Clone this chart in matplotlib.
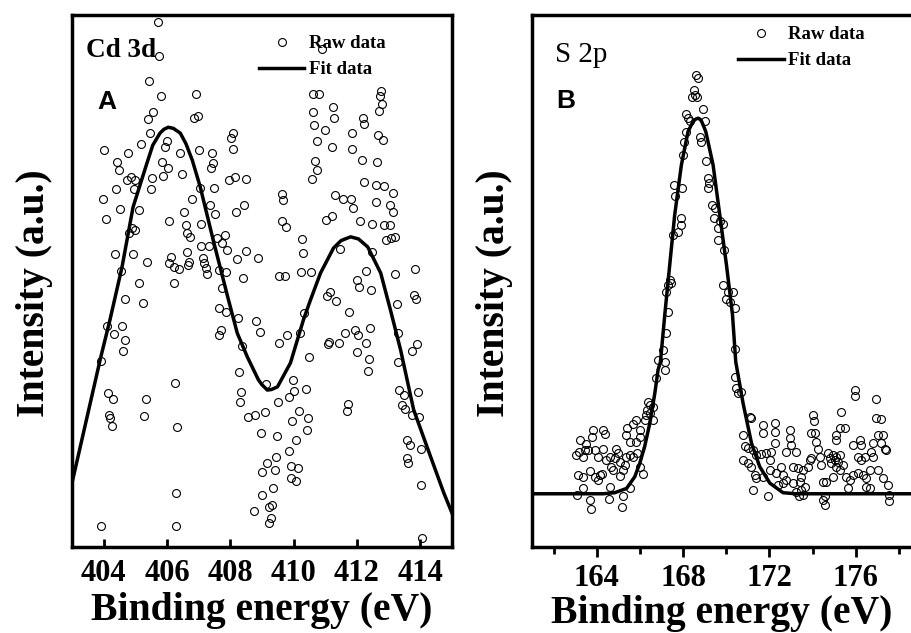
import numpy as np
import matplotlib
matplotlib.use("Agg")
import matplotlib.pyplot as plt
from matplotlib.ticker import MultipleLocator

plt.rcParams['font.family'] = ['Liberation Serif', 'DejaVu Serif']

# ---- panel A : Cd 3d ----
cd_fit_x = [403.0, 403.89, 404.20, 404.58, 404.93, 405.37, 405.55, 405.78, 405.90, 406.04,
            406.20, 406.42, 406.60, 406.80, 407.05, 407.46, 407.91, 408.22, 408.54, 408.89,
            409.00, 409.17, 409.30, 409.49, 409.90, 410.31, 410.53, 410.85, 411.26, 411.50,
            411.80, 412.05, 412.34, 412.75, 413.06, 413.38, 413.79, 414.33, 414.74, 415.0]
cd_fit_y = [12.0, 35.2, 42.7, 52.6, 63.9, 72.2, 75.5, 77.8, 78.5, 78.9,
            78.7, 77.8, 75.8, 72.7, 67.7, 57.7, 47.2, 40.2, 35.7, 31.4,
            30.5, 29.5, 29.6, 30.1, 34.6, 42.7, 46.4, 51.5, 56.2, 57.6,
            58.3, 57.9, 56.4, 51.5, 44.5, 37.0, 25.8, 16.9, 10.2, 6.4]

cd_raw_x = [405.72, 405.74, 405.43, 405.80, 406.92, 405.55, 405.41, 406.85, 406.99, 405.46,
            408.08, 408.02, 408.08, 405.99, 404.01, 404.77, 405.18, 405.95, 406.40, 407.01,
            407.43, 404.42, 404.50, 405.83, 406.04, 405.87, 407.45, 407.38, 406.48, 404.85,
            404.74, 405.00, 405.53, 407.96, 408.15, 408.49, 404.40, 404.97, 405.51, 407.49,
            407.04, 403.98, 406.78, 404.53, 405.13, 406.53, 407.37, 407.51, 408.17, 408.43,
            404.08, 406.08, 404.90, 405.00, 404.81, 406.59, 406.64, 406.74, 407.06, 407.59,
            407.83, 407.75, 407.91, 404.37, 404.92, 405.37, 406.14, 406.08, 406.22, 406.38,
            406.64, 406.71, 406.67, 407.15, 407.17, 407.22, 407.27, 407.06, 407.32, 407.64,
            407.85, 408.51, 408.20, 408.89, 404.55, 408.40, 405.11, 406.22,
            410.60, 410.81, 412.76, 412.73, 412.79, 412.71, 411.25, 411.28, 410.60, 410.65,
            410.99, 412.18, 412.23, 411.84, 412.65, 412.83, 410.75, 411.21, 411.84, 412.15,
            412.63, 410.68, 410.75, 410.57, 412.23, 412.60, 412.86, 413.13, 409.62, 409.67,
            411.31, 411.57, 411.81, 411.88, 412.60, 413.04, 413.15, 409.62, 409.75, 411.02,
            411.20, 412.09, 412.49, 412.86, 413.04, 412.92, 413.07, 413.21, 410.28, 410.30,
            411.46, 412.47, 409.54, 409.73, 410.23, 410.54, 412.30, 411.99, 413.21, 413.84,
            410.90,
            404.69, 405.25, 404.11, 404.34, 404.58, 404.66, 404.61, 403.92, 407.73, 407.64,
            407.85, 407.72, 407.64, 408.24, 408.38, 408.82, 408.93, 408.27, 408.35, 408.31,
            408.56, 408.79, 409.11, 408.96, 406.24, 404.14, 404.29, 405.34, 404.16, 404.21,
            404.27, 405.27, 406.33, 408.99, 406.27, 408.99, 408.75, 403.92, 406.30,
            409.12, 412.07, 412.44, 411.14, 411.04, 411.33, 413.81, 413.87, 413.25, 411.76,
            410.33, 409.80, 409.54, 410.19, 411.12, 411.09, 411.42, 411.63, 411.95, 412.02,
            412.41, 412.30, 411.99, 412.37, 412.34, 410.49, 413.89, 413.74, 413.29, 413.31,
            409.98, 410.01, 409.84, 409.51, 410.38, 413.34, 413.50, 413.42, 413.53, 413.73,
            413.92, 413.97, 411.73, 411.67, 410.17, 410.44, 409.94, 410.41, 409.47, 410.07,
            409.86, 409.44, 409.17, 409.40, 409.93, 410.14, 409.91, 410.09, 413.58, 413.68,
            414.01, 413.58, 413.62, 409.35, 409.33, 409.22, 409.28, 409.22, 414.02, 414.05]
cd_raw_y = [98.6, 92.2, 87.5, 84.8, 85.1, 81.7, 80.5, 80.7, 81.1, 77.8,
            77.9, 76.8, 74.9, 76.3, 74.6, 74.0, 75.7, 75.1, 74.1, 74.6,
            74.0, 72.4, 70.9, 72.4, 71.2, 69.7, 72.1, 71.2, 70.2, 69.6,
            68.9, 68.9, 69.3, 68.9, 69.6, 69.1, 67.2, 67.2, 67.2, 67.5,
            67.5, 65.5, 65.4, 63.5, 63.3, 63.0, 64.2, 62.6, 63.0, 64.2,
            61.6, 61.3, 59.9, 59.6, 59.0, 60.5, 59.0, 58.3, 60.7, 58.1,
            58.6, 57.1, 55.8, 55.1, 55.1, 53.6, 54.6, 53.3, 52.7, 52.2,
            55.4, 53.6, 53.0, 54.4, 53.3, 52.4, 51.4, 56.5, 56.5, 52.1,
            51.6, 55.7, 54.1, 54.4, 51.9, 50.6, 49.7, 49.7,
            85.1, 85.1, 85.7, 84.8, 83.2, 82.0, 82.8, 80.6, 81.7, 79.4,
            78.4, 80.6, 79.6, 77.8, 77.4, 76.5, 76.3, 75.1, 74.9, 72.7,
            72.3, 72.6, 70.9, 69.1, 68.7, 68.0, 67.9, 66.5, 66.4, 65.2,
            66.2, 65.5, 65.5, 63.7, 64.8, 64.2, 63.0, 61.3, 60.2, 61.5,
            62.2, 61.3, 60.8, 60.5, 60.5, 57.7, 58.1, 58.3, 57.9, 55.2,
            56.0, 55.4, 51.0, 51.0, 51.6, 51.6, 51.9, 50.2, 51.4, 52.3,
            93.7,
            46.7, 45.8, 41.5, 40.0, 41.6, 39.0, 36.8, 35.0, 48.6, 44.9,
            44.1, 40.8, 39.9, 43.1, 37.7, 42.4, 40.5, 32.8, 29.1, 27.2,
            24.4, 24.9, 25.4, 21.4, 30.8, 28.9, 27.8, 27.9, 24.9, 24.3,
            22.8, 24.7, 22.6, 14.0, 10.1, 9.8, 6.8, 4.0, 3.9,
            30.6, 48.9, 48.4, 48.0, 47.1, 46.3, 47.4, 46.6, 45.6, 44.1,
            43.9, 39.9, 38.3, 40.2, 38.6, 38.2, 38.4, 40.3, 40.8, 39.9,
            41.2, 38.3, 36.6, 35.3, 33.1, 35.7, 38.2, 36.9, 40.2, 34.7,
            31.4, 29.3, 28.1, 27.2, 29.7, 29.5, 28.6, 26.7, 25.9, 24.8,
            29.1, 24.5, 26.9, 25.6, 25.6, 24.3, 23.6, 22.0, 20.9, 20.2,
            18.1, 17.0, 15.7, 14.4, 15.2, 14.8, 12.9, 12.4, 20.2, 19.2,
            18.5, 16.7, 15.7, 11.0, 7.9, 7.5, 5.5, 4.6, 11.7, 1.6]

# ---- panel B : S 2p ----
s_fit_x = [161.0, 163.68, 164.28, 164.83, 165.38, 165.76, 165.99, 166.22, 166.46, 166.69,
           166.84, 166.95, 167.15, 167.38, 167.61, 167.92, 168.23, 168.45, 168.57, 168.69,
           168.79, 168.87, 169.05, 169.39, 169.70, 170.01, 170.29, 170.44, 170.78, 171.17,
           171.55, 172.02, 172.63, 173.25, 178.56]
s_fit_y = [10.0, 10.0, 10.0, 10.2, 11.0, 13.2, 15.7, 18.9, 23.3, 28.9,
           33.3, 34.8, 43.6, 53.0, 62.4, 71.8, 78.1, 79.9, 80.4, 80.6,
           80.4, 79.9, 78.1, 71.8, 62.4, 53.0, 43.6, 34.8, 27.0, 19.5,
           15.1, 12.0, 10.2, 10.0, 10.0]

s_raw_x = [168.62, 168.67, 168.50, 168.54, 168.39, 168.65, 168.93, 168.12, 168.23, 168.31,
           169.00, 168.12, 168.03, 168.00, 168.80, 168.85, 169.05, 169.16, 169.21, 169.16,
           167.57, 167.97, 167.61, 169.36, 169.47, 169.44, 169.70, 169.85, 169.62, 167.92,
           167.89, 167.77, 167.51, 169.62, 169.89, 167.38, 167.31, 167.46, 167.23, 169.85,
           170.09, 170.32, 170.01, 170.16, 170.40, 167.31, 167.23, 167.07, 166.84, 167.15,
           170.40,
           167.15, 166.73, 166.38, 166.46, 166.33, 166.61, 166.46, 166.30, 166.22, 166.61,
           165.81, 165.68, 165.41, 165.34, 165.99, 166.02, 165.53, 165.84, 163.83, 164.29,
           164.37, 163.80, 163.21, 163.52, 163.18, 163.44, 163.37, 163.06, 163.60, 163.91,
           164.29, 164.06, 164.42, 164.60, 164.91, 164.99, 164.83, 165.07, 164.68, 164.76,
           165.53, 165.68, 165.87, 165.34, 165.30, 165.22, 166.02, 166.15, 163.13, 163.37,
           163.68, 163.91, 164.14, 164.22, 164.06, 163.37, 165.07, 163.09, 164.60, 165.53,
           163.68, 163.71, 164.57, 165.22, 165.19,
           170.39, 170.47, 170.55, 170.70, 171.09, 171.16, 171.70, 171.70, 172.25, 172.25,
           170.78, 170.86, 170.78, 171.01, 171.24, 171.40, 171.63, 171.86, 172.09, 172.25,
           172.01, 171.16, 171.01, 171.32, 171.40, 171.70, 171.24, 171.94, 172.01, 172.32,
           172.55, 172.63, 172.79, 172.63, 172.40, 173.09, 172.94, 172.94, 173.02, 172.79,
           173.25, 173.09, 173.33, 173.56, 173.48, 173.40, 173.64, 173.48, 173.25, 173.56,
           173.37, 173.87, 173.79, 173.94, 174.02, 174.05, 173.94, 174.10, 174.18, 174.25,
           174.33, 174.41, 174.48, 174.64, 174.56, 174.48, 174.56, 174.72, 174.79, 174.95,
           175.10, 175.03, 175.18, 175.26, 174.87, 175.10, 175.41, 175.26, 174.95, 175.33,
           175.10, 175.26, 175.49, 175.07, 175.95, 175.95, 175.88, 176.18, 176.26, 176.11,
           176.26, 175.57, 175.72, 175.88, 176.11, 175.64, 176.34, 176.49, 176.49, 176.65,
           176.42, 176.80, 176.72, 176.80, 176.96, 176.96, 177.19, 177.03, 177.27, 177.19,
           177.34, 177.42, 177.03, 177.27, 177.50, 177.54, 177.54, 176.65]
s_raw_y = [88.7, 88.2, 85.9, 85.0, 84.6, 84.5, 82.3, 81.3, 80.6, 80.1,
           80.1, 78.1, 76.2, 73.7, 77.1, 76.2, 72.6, 69.4, 68.4, 67.4,
           68.0, 67.5, 65.9, 64.3, 63.7, 61.8, 61.2, 60.8, 59.9, 61.8,
           60.5, 59.3, 58.6, 57.7, 55.8, 50.2, 49.2, 49.6, 48.0, 49.2,
           48.0, 48.0, 46.7, 46.1, 44.9, 44.2, 40.2, 37.0, 35.2, 34.8,
           37.3,
           33.3, 31.7, 27.3, 26.7, 25.8, 26.4, 25.1, 24.8, 23.9, 23.9,
           23.9, 23.2, 22.3, 21.1, 22.0, 20.7, 19.8, 19.8, 22.0, 22.0,
           21.2, 20.6, 20.1, 19.4, 17.9, 18.2, 17.0, 17.3, 18.2, 18.2,
           18.4, 17.0, 16.4, 17.0, 18.5, 17.7, 16.7, 16.0, 15.1, 14.5,
           17.3, 17.0, 17.6, 17.0, 15.4, 14.5, 15.1, 13.8, 13.5, 13.2,
           14.2, 13.2, 13.5, 13.8, 12.6, 11.0, 13.3, 9.8, 11.3, 11.0,
           8.8, 7.1, 9.0, 9.5, 7.6,
           32.0, 29.8, 28.9, 29.2, 24.5, 24.2, 22.9, 21.4, 23.3, 21.7,
           21.1, 18.9, 16.4, 18.6, 18.2, 17.3, 17.5, 17.6, 17.9, 19.5,
           16.4, 15.1, 15.7, 13.5, 12.9, 13.2, 10.7, 9.5, 14.5, 13.9,
           15.1, 13.5, 12.6, 12.0, 11.7, 12.0, 22.0, 20.4, 19.2, 17.9,
           17.9, 15.1, 14.8, 14.5, 13.2, 12.3, 11.3, 10.7, 10.4, 9.8,
           9.5, 16.4, 15.1, 16.7, 24.8, 23.6, 21.5, 21.4, 19.8, 18.5,
           17.0, 15.4, 12.3, 12.3, 9.5, 8.8, 7.9, 17.6, 16.7, 17.3,
           17.0, 16.4, 16.0, 17.3, 15.7, 15.1, 15.4, 14.5, 13.2, 25.4,
           21.1, 22.3, 22.3, 20.1, 29.5, 28.3, 19.2, 20.1, 19.2, 17.0,
           16.4, 13.2, 12.6, 13.5, 13.9, 11.0, 13.5, 12.9, 11.3, 14.5,
           17.0, 19.5, 17.9, 17.0, 27.9, 24.2, 24.0, 21.1, 21.1, 19.5,
           18.5, 18.2, 14.5, 12.9, 11.7, 9.8, 8.7, 11.0]

label_font = dict(fontsize=28.5, fontweight='bold')
tick_font = 22

fig = plt.figure(figsize=(9.11, 6.33), dpi=100)
axA = fig.add_axes([0.0790, 0.1359, 0.4171, 0.8404])
axB = fig.add_axes([0.5840, 0.1359, 0.4160, 0.8404])

def draw(ax, raw_x, raw_y, fit_x, fit_y, xpad):
    ax.plot(raw_x, raw_y, 'o', mfc='none', mec='black', ms=5.7, mew=0.8,
            label='Raw data', zorder=2)
    ax.plot(fit_x, fit_y, '-', color='black', lw=2.5, label='Fit data', zorder=3)
    for s in ax.spines.values():
        s.set_linewidth(2.5)
    ax.set_ylim(0, 100)
    ax.set_yticks([])
    ax.set_ylabel('Intensity (a.u.)', **label_font)
    ax.yaxis.set_label_coords(-0.05, 0.477)
    ax.set_xlabel('Binding energy (eV)', labelpad=xpad, **label_font)

draw(axA, cd_raw_x, cd_raw_y, cd_fit_x, cd_fit_y, 2.5)
axA.set_xlim(403, 415)
axA.xaxis.set_major_locator(MultipleLocator(2))
axA.tick_params(axis='x', direction='in', length=6, width=2, labelsize=tick_font, pad=9)
axA.text(0.037, 0.921, 'Cd 3d', transform=axA.transAxes, fontsize=19.5, fontweight='bold')
axA.text(0.066, 0.823, 'A', transform=axA.transAxes, fontsize=19, fontweight='bold',
         family='Liberation Sans')
axA.legend(loc='upper left', bbox_to_anchor=(0.491, 0.962), frameon=False,
           prop=dict(size=13.5, weight='bold'), handlelength=2.45, handletextpad=0.25,
           labelspacing=0.47, borderpad=0, borderaxespad=0)

draw(axB, s_raw_x, s_raw_y, s_fit_x, s_fit_y, 1.5)
axB.set_xlim(161, 178.56)
axB.spines['right'].set_visible(False)
axB.xaxis.set_major_locator(MultipleLocator(4))
axB.xaxis.set_minor_locator(MultipleLocator(2))
axB.tick_params(axis='x', which='major', direction='out', length=7, width=2,
                labelsize=tick_font, pad=5)
axB.tick_params(axis='x', which='minor', direction='out', length=5, width=2)
axB.text(0.061, 0.912, 'S 2p', transform=axB.transAxes, fontsize=21)
axB.text(0.065, 0.825, 'B', transform=axB.transAxes, fontsize=19, fontweight='bold',
         family='Liberation Sans')
axB.legend(loc='upper left', bbox_to_anchor=(0.543, 0.979), frameon=False,
           prop=dict(size=13.5, weight='bold'), handlelength=2.45, handletextpad=0.25,
           labelspacing=0.47, borderpad=0, borderaxespad=0)

for ax in (axA, axB):
    for t in ax.get_xticklabels():
        t.set_fontweight('bold')

fig.savefig('out.png', dpi=100)
